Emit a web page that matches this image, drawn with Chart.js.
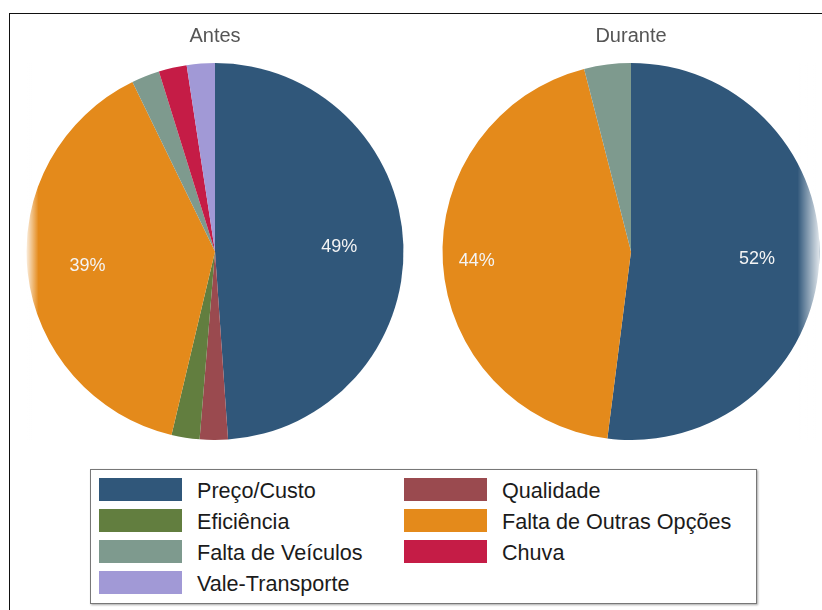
<!DOCTYPE html>
<html>
<head>
<meta charset="utf-8">
<script src="https://cdn.jsdelivr.net/npm/chart.js@4.4.1/dist/chart.umd.min.js"></script>
<style>
  html, body { margin: 0; padding: 0; width: 822px; height: 610px; overflow: hidden; background: #fff; }
  body { position: relative; font-family: Arial, "Liberation Sans", sans-serif; }
  #frame { position: absolute; left: 9px; top: 13px; width: 900px; height: 700px;
           border-top: 1.5px solid #111; border-left: 1.5px solid #111; }
  #cAntes { position: absolute; left: 15px; top: 19px; }
  #cDurante { position: absolute; left: 431px; top: 19px; }
  #legend { position: absolute; left: 90px; top: 469px; width: 665px; height: 133px;
            border: 1px solid #777; box-shadow: 1px 1px 2px rgba(0,0,0,0.35); background: #fff; }
  .item { position: absolute; height: 23px; }
  .sw { position: absolute; left: 0; top: 0; width: 83px; height: 23px; }
  .lb { position: absolute; left: 98px; top: 1px; font-size: 21.6px; line-height: 23px; color: #1b1b1b; white-space: nowrap; }
</style>
</head>
<body>
<div id="frame"></div>
<canvas id="cAntes" width="400" height="421"></canvas>
<canvas id="cDurante" width="400" height="421"></canvas>
<div id="legend"></div>
<script>
// ---- data ----
const categories = ['Preço/Custo', 'Qualidade', 'Eficiência', 'Falta de Outras Opções', 'Falta de Veículos', 'Chuva', 'Vale-Transporte'];
const categoryColors = ['#30577a', '#9a4a4f', '#627e3f', '#e48a1b', '#7e9a8e', '#c51c46', '#a199d6'];

const antesLabels = ['Preço/Custo', 'Qualidade', 'Eficiência', 'Falta de Outras Opções', 'Falta de Veículos', 'Chuva', 'Vale-Transporte'];
const antesValues = [48.8, 2.4, 2.4, 39.0, 2.4, 2.4, 2.4];

const duranteLabels = ['Preço/Custo', 'Falta de Outras Opções', 'Falta de Veículos'];
const duranteValues = [52, 44, 4];

const chartTitles = ['Antes', 'Durante'];

const colorOf = name => categoryColors[categories.indexOf(name)];

// ---- plugins ----
const pctLabels = {
  id: 'pctLabels',
  afterDatasetsDraw(chart, args, opts) {
    const ctx = chart.ctx;
    const meta = chart.getDatasetMeta(0);
    const data = chart.data.datasets[0].data;
    const total = data.reduce((a, b) => a + b, 0);
    ctx.save();
    ctx.font = '18px Arial, "Liberation Sans", sans-serif';
    ctx.fillStyle = '#f4f4f4';
    ctx.textAlign = 'center';
    ctx.textBaseline = 'middle';
    meta.data.forEach((arc, i) => {
      const pct = data[i] / total * 100;
      if (pct < 10) return;
      const p = arc.getProps(['x', 'y', 'startAngle', 'endAngle', 'outerRadius'], true);
      const mid = (p.startAngle + p.endAngle) / 2;
      const f = (opts.radiusFrac && opts.radiusFrac[i]) || 0.67;
      const r = p.outerRadius * f;
      ctx.fillText(Math.round(pct) + '%', p.x + Math.cos(mid) * r, p.y + Math.sin(mid) * r);
    });
    ctx.restore();
  }
};

const edgeFade = {
  id: 'edgeFade',
  afterDraw(chart, args, opts) {
    if (!opts.side) return;
    const arc = chart.getDatasetMeta(0).data[0];
    const p = arc.getProps(['x', 'y', 'outerRadius'], true);
    const ctx = chart.ctx;
    ctx.save();
    let x0, x1;
    if (opts.side === 'left') { x0 = p.x - p.outerRadius; x1 = x0 + opts.width; }
    else { x0 = p.x + p.outerRadius; x1 = x0 - opts.width; }
    const g = ctx.createLinearGradient(x0, 0, x1, 0);
    g.addColorStop(0, 'rgba(255,255,255,0.85)');
    g.addColorStop(1, 'rgba(255,255,255,0)');
    ctx.fillStyle = g;
    ctx.fillRect(Math.min(x0, x1) - 2, p.y - p.outerRadius, Math.abs(x1 - x0) + 2, p.outerRadius * 2);
    ctx.restore();
  }
};

function makePie(id, title, labels, values, fade, radiusFrac) {
  return new Chart(document.getElementById(id), {
    type: 'pie',
    data: {
      labels: labels,
      datasets: [{
        data: values,
        backgroundColor: labels.map(colorOf),
        borderWidth: 0
      }]
    },
    options: {
      responsive: false,
      animation: false,
      events: [],
      layout: { padding: 0 },
      plugins: {
        legend: { display: false },
        tooltip: { enabled: false },
        title: {
          display: true,
          text: title,
          color: '#555',
          font: { family: 'Arial, "Liberation Sans", sans-serif', size: 20, weight: 'normal', lineHeight: 1.2 },
          padding: { top: 5, bottom: 15 }
        },
        pctLabels: { radiusFrac: radiusFrac },
        edgeFade: fade
      }
    },
    plugins: [pctLabels, edgeFade]
  });
}

makePie('cAntes', chartTitles[0], antesLabels, antesValues, { side: 'left', width: 12 }, [0.66, 0, 0, 0.68]);
makePie('cDurante', chartTitles[1], duranteLabels, duranteValues, { side: 'right', width: 22 }, [0.67, 0.82]);

// ---- legend (HTML) ----
const legend = document.getElementById('legend');
categories.forEach((name, i) => {
  const col = i % 2, row = Math.floor(i / 2);
  const it = document.createElement('div');
  it.className = 'item';
  it.style.left = (col === 0 ? 8 : 313) + 'px';
  it.style.top = (8 + row * 31) + 'px';
  const sw = document.createElement('div');
  sw.className = 'sw';
  sw.style.background = categoryColors[i];
  const lb = document.createElement('div');
  lb.className = 'lb';
  lb.textContent = name;
  it.appendChild(sw); it.appendChild(lb);
  legend.appendChild(it);
});
</script>
</body>
</html>
